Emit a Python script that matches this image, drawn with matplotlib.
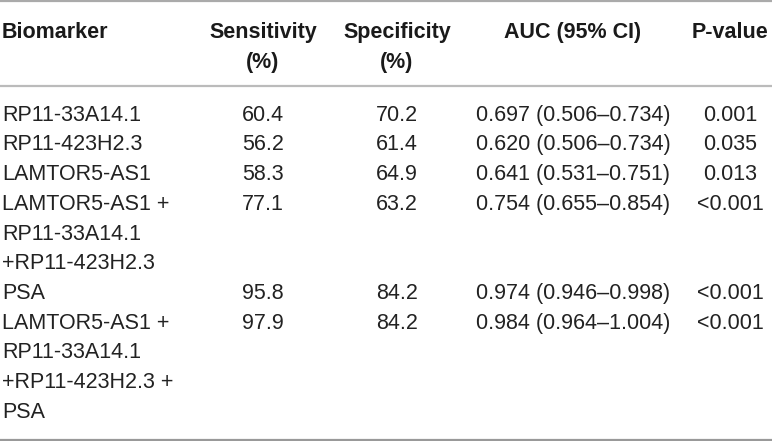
import matplotlib
matplotlib.use("Agg")
import matplotlib.pyplot as plt

plt.rcParams['font.family'] = ['Liberation Sans', 'DejaVu Sans']

# table content
headers = ["Biomarker", "Sensitivity\n(%)", "Specificity\n(%)", "AUC (95% CI)", "P-value"]
biomarkers = [
    "RP11-33A14.1",
    "RP11-423H2.3",
    "LAMTOR5-AS1",
    "LAMTOR5-AS1 +\nRP11-33A14.1\n+RP11-423H2.3",
    "PSA",
    "LAMTOR5-AS1 +\nRP11-33A14.1\n+RP11-423H2.3 +\nPSA",
]
sensitivity = ["60.4", "56.2", "58.3", "77.1", "95.8", "97.9"]
specificity = ["70.2", "61.4", "64.9", "63.2", "84.2", "84.2"]
auc_ci = [
    "0.697 (0.506\u20130.734)",
    "0.620 (0.506\u20130.734)",
    "0.641 (0.531\u20130.751)",
    "0.754 (0.655\u20130.854)",
    "0.974 (0.946\u20130.998)",
    "0.984 (0.964\u20131.004)",
]
p_values = ["0.001", "0.035", "0.013", "<0.001", "<0.001", "<0.001"]

W, H = 772, 441
fig = plt.figure(figsize=(W / 100, H / 100), dpi=100)
ax = fig.add_axes([0, 0, 1, 1])
ax.set_xlim(0, W)
ax.set_ylim(H, 0)
ax.axis('off')

fs = 15.5
cap = 0.716 * fs * 100 / 72 / 2   # half cap height in px
col_x = [2, 263, 397, 573, 730]
col_ha = ['left', 'center', 'center', 'center', 'center']
line_h = 29.7

# header
for x, ha, h in zip(col_x, col_ha, headers):
    for k, part in enumerate(h.split("\n")):
        ax.text(x, 30 + k * 30 + cap, part, ha=ha, va='baseline',
                fontsize=fs, fontweight='bold', color='#1a1a1a')

# body
y = 113
for i, name in enumerate(biomarkers):
    cells = [name, sensitivity[i], specificity[i], auc_ci[i], p_values[i]]
    for x, ha, c in zip(col_x, col_ha, cells):
        for k, part in enumerate(c.split("\n")):
            ax.text(x, y + k * line_h + cap, part, ha=ha, va='baseline',
                    fontsize=fs, color='#222222')
    y += line_h * len(name.split("\n"))

# rules
ax.axhline(1, color='#aaaaaa', lw=1.6)
ax.axhline(86, color='#bbbbbb', lw=1.6)
ax.axhline(440, color='#999999', lw=1.6)

fig.savefig("out.png", dpi=100, facecolor='white')
